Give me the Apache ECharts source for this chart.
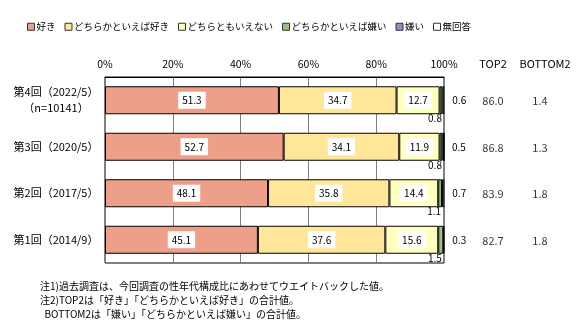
<!DOCTYPE html>
<html><head><meta charset="utf-8">
<script src="https://cdn.jsdelivr.net/npm/echarts@6/dist/echarts.min.js"></script>
<style>html,body{margin:0;padding:0;background:#fff}#c{width:583px;height:321px}</style>
</head><body><div id="c"></div>
<script>
const categories = ['第4回（2022/5）\n（n=10141）', '第3回（2020/5）', '第2回（2017/5）', '第1回（2014/9）'];
const seriesNames = ['好き', 'どちらかといえば好き', 'どちらともいえない', 'どちらかといえば嫌い', '嫌い', '無回答'];
const like = [51.3, 52.7, 48.1, 45.1];
const ratherLike = [34.7, 34.1, 35.8, 37.6];
const neither = [12.7, 11.9, 14.4, 15.6];
const ratherDislike = [0.8, 0.8, 1.1, 1.5];
const dislike = [0.6, 0.5, 0.7, 0.3];
const noAnswer = [0, 0, 0, 0];
const top2 = [86.0, 86.8, 83.9, 82.7];
const bottom2 = [1.4, 1.3, 1.8, 1.8];
const xTicks = [0, 20, 40, 60, 80, 100];
const sideHeaders = ['TOP2', 'BOTTOM2'];
const notes = '注1)過去調査は、今回調査の性年代構成比にあわせてウエイトバックした値。\n注2)TOP2は「好き」「どちらかといえば好き」の合計値。\n  BOTTOM2は「嫌い」「どちらかといえば嫌い」の合計値。';

const colors = ['#EE9F8A', '#FFE699', '#FFFFBF', '#9BC07D', '#8A96BE', '#FFFFFF'];
const FF = 'Noto Sans CJK JP';

const boxLabel = {
  show: true, position: 'inside', color: '#000', fontSize: 10, fontFamily: FF,
  backgroundColor: '#fff', padding: [4, 4, 3, 4],
  formatter: p => p.value.toFixed(1)
};
const values = [like, ratherLike, neither, ratherDislike, dislike, noAnswer];
const labels = [
  boxLabel, boxLabel, boxLabel,
  { show: true, position: 'bottom', distance: 0, align: 'right', offset: [1, -1], color: '#000', fontSize: 10, fontFamily: FF, formatter: p => p.value.toFixed(1) },
  { show: true, position: 'right', distance: 8, color: '#000', fontSize: 10, fontFamily: FF, formatter: p => p.value.toFixed(1) },
  { show: false }
];

const barSeries = seriesNames.map((n, i) => ({
  name: n, type: 'bar', stack: 'a', xAxisIndex: 0, yAxisIndex: 0,
  barWidth: 28, data: values[i],
  itemStyle: { color: colors[i], borderColor: '#000', borderWidth: 1 },
  label: labels[i],
  emphasis: { disabled: true },
  z: 2
}));

function sideSeries(hdr, arr, dx) {
  return {
    type: 'scatter', xAxisIndex: 1, yAxisIndex: 1, symbolSize: 1,
    itemStyle: { color: 'transparent' },
    data: arr.map((v, i) => [hdr, categories[i]]),
    label: { show: true, position: 'inside', offset: [dx, 1], color: '#000', fontSize: 11, fontFamily: FF,
      formatter: p => arr[p.dataIndex].toFixed(1) },
    silent: true
  };
}

const chart = echarts.init(document.getElementById('c'), null, { renderer: 'canvas' });
chart.setOption({
  animation: false,
  backgroundColor: '#fff',
  textStyle: { fontFamily: FF },
  color: colors,
  legend: {
    data: seriesNames, left: 22, top: 17, icon: 'rect', itemWidth: 7, itemHeight: 7, itemGap: 9,
    textStyle: { fontSize: 9.5, color: '#000', fontFamily: FF, padding: [0, 0, 0, -3] },
    itemStyle: { borderColor: '#333', borderWidth: 1 }
  },
  title: {
    text: notes, left: 35, top: 274,
    textStyle: { fontSize: 10, fontWeight: 'normal', color: '#000', lineHeight: 14, fontFamily: FF }
  },
  grid: [
    { left: 105, top: 77, width: 339, height: 186, show: true, borderColor: '#000', borderWidth: 1, backgroundColor: 'transparent' },
    { left: 467, top: 77, width: 104, height: 186, show: false }
  ],
  xAxis: [
    { type: 'value', gridIndex: 0, position: 'top', min: xTicks[0], max: xTicks[xTicks.length - 1], interval: 20,
      axisLine: { show: true, lineStyle: { color: '#000' } }, axisTick: { show: false },
      splitLine: { show: true, lineStyle: { color: '#808080', width: 1 } },
      axisLabel: { formatter: '{value}%', fontSize: 10.5, color: '#000', margin: 8, fontFamily: FF } },
    { type: 'category', gridIndex: 1, position: 'top', data: sideHeaders,
      axisLine: { show: false }, axisTick: { show: false }, splitLine: { show: false },
      axisLabel: { interval: 0, hideOverlap: false, fontSize: 11, color: '#000', margin: 8, fontFamily: FF } }
  ],
  yAxis: [
    { type: 'category', gridIndex: 0, inverse: true, data: categories,
      axisLine: { show: false }, axisTick: { show: false },
      axisLabel: { align: 'center', margin: 49, fontSize: 11, lineHeight: 16, color: '#000', fontFamily: FF } },
    { type: 'category', gridIndex: 1, inverse: true, data: categories, show: false }
  ],
  series: barSeries.concat([sideSeries('TOP2', top2, 0), sideSeries('BOTTOM2', bottom2, -5)])
});
</script></body></html>
